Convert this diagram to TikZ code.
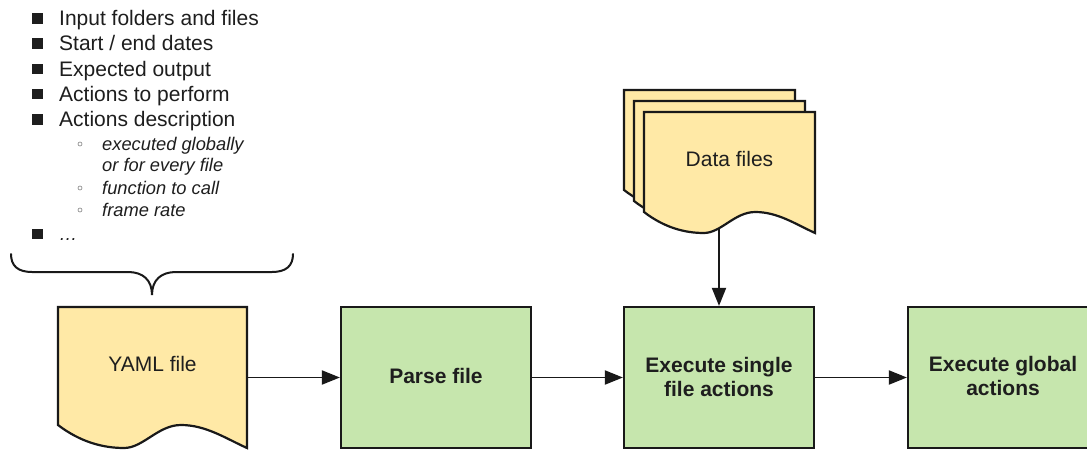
\documentclass[tikz,border=0pt]{standalone}
\usepackage{fontspec}
\setmainfont{Liberation Sans}
\usetikzlibrary{arrows.meta}
\definecolor{docyellow}{RGB}{255,233,166}
\definecolor{boxgreen}{RGB}{198,230,173}
\definecolor{txt}{RGB}{30,30,30}
\definecolor{edge}{RGB}{25,25,25}
\newcommand\docpath[5]{%
  \pgfmathsetmacro\dw{#3}\pgfmathsetmacro\dh{#4}\pgfmathsetmacro\dd{#5}%
  \draw[docstyle, shift={(#1,#2)}] (0,0) -- (\dw,0) -- (\dw,\dh+\dd)
    .. controls (0.88*\dw,\dh+0.55*\dd) and (0.78*\dw,\dh) .. (0.65*\dw,\dh)
    .. controls (0.53*\dw,\dh) and (0.45*\dw,\dh+\dd) .. (0.35*\dw,\dh+\dd)
    .. controls (0.24*\dw,\dh+\dd) and (0.12*\dw,\dh+0.75*\dd) .. (0,\dh) -- cycle;}
\tikzset{
  docstyle/.style={draw=edge, fill=docyellow, line width=2.2pt, line join=miter},
  greenbox/.style={draw=edge, fill=boxgreen, line width=2.2pt, minimum width=190pt, minimum height=141pt, inner sep=0pt},
  boxtext/.style={font=\fontsize{21}{24}\selectfont\bfseries, text=txt, align=center},
  doctext/.style={font=\fontsize{21}{24}\selectfont, text=txt},
  listtext/.style={font=\fontsize{21}{25}\selectfont, text=txt, anchor=base west, inner sep=0pt},
  subtext/.style={font=\fontsize{18.3}{22}\selectfont\itshape, text=txt, anchor=base west, inner sep=0pt},
  flow/.style={draw=edge, line width=1.9pt, -{Triangle[length=18pt,width=14pt]}},
  bulletsq/.style={fill=txt},
  subbullet/.style={draw=gray, line width=0.6pt},
}
\begin{document}
\begin{tikzpicture}[x=1pt, y=-1pt]
\useasboundingbox (0,0) rectangle (1087,450);
\clip (0,0) rectangle (1087,450);
\fill[white] (0,0) rectangle (1087,450);

% list
\fill[bulletsq] (32,13) rectangle (42.5,23.5);
\fill[bulletsq] (32,38.2) rectangle (42.5,48.7);
\fill[bulletsq] (32,63.5) rectangle (42.5,74);
\fill[bulletsq] (32,88.7) rectangle (42.5,99.2);
\fill[bulletsq] (32,114) rectangle (42.5,124.5);
\fill[bulletsq] (32,228.7) rectangle (42.5,239.2);
\node[listtext] (l1) at (59,25.5) {Input folders and files};
\node[listtext] (l2) at (59,50.7) {Start / end dates};
\node[listtext] (l3) at (59,76) {Expected output};
\node[listtext] (l4) at (59,101.2) {Actions to perform};
\node[listtext] (l5) at (59,126.5) {Actions description};
\draw[subbullet] (80,144) circle (2pt);
\draw[subbullet] (80,188) circle (2pt);
\draw[subbullet] (80,210) circle (2pt);
\node[subtext] (s1) at (102,150) {executed globally};
\node[subtext] (s2) at (102,171.8) {or for every file};
\node[subtext] (s3) at (102,194.2) {function to call};
\node[subtext] (s4) at (102,216) {frame rate};
\node[subtext] (l6) at (59,240) {\dots};

% brace
\draw[edge, line width=2pt, line cap=round]
  (11,254) .. controls (11,266) and (18,272) .. (32,272) -- (128,272)
  .. controls (143,272) and (152,280) .. (152,295)
  .. controls (152,280) and (161,272) .. (176,272) -- (272,272)
  .. controls (286,272) and (293,266) .. (293,254);

% YAML doc
\docpath{58}{307}{189}{118}{23}
\node[minimum width=189pt, minimum height=141pt, inner sep=0pt] (yaml) at (152.5,377.5) {};
\node[doctext] (yamltext) at (152.5,364) {YAML file};

% data files
\docpath{624}{90}{171}{100}{21}
\docpath{634}{101}{171}{100}{21}
\docpath{644}{112}{171}{100}{21}
\node[doctext] (data) at (729.5,159) {Data files};
\coordinate (dataout) at (719,228);

% boxes
\node[greenbox] (parse) at (436,377.5) {};
\node[boxtext] (parsetext) at (436,376) {Parse file};
\node[greenbox] (exec) at (719,377.5) {};
\node[boxtext] (exectext) at (719,377) {Execute single\\file actions};
\node[greenbox] (global) at (1003,377.5) {};
\node[boxtext] (globaltext) at (1003,375.5) {Execute global\\actions};

% connectors
\draw[flow] (yaml.east) -- (parse.west);
\draw[flow] (parse.east) -- (exec.west);
\draw[flow] (exec.east) -- (global.west);
\draw[flow] (dataout) -- (exec.north);
\end{tikzpicture}
\end{document}
